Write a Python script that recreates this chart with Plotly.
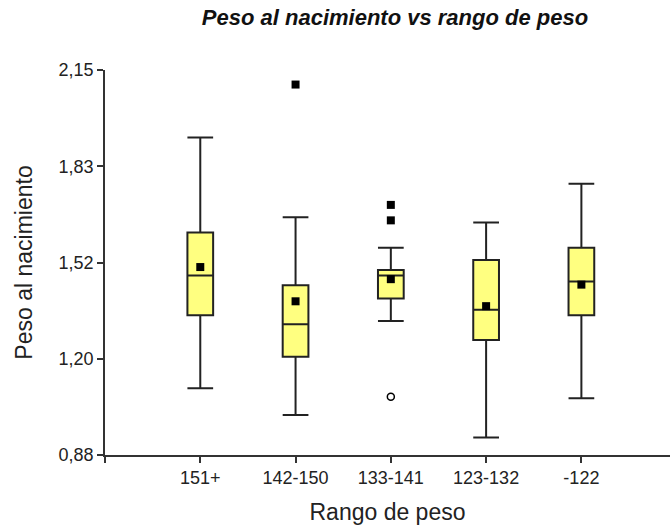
import plotly.graph_objects as go

categories = ["151+", "142-150", "133-141", "123-132", "-122"]
positions = [0, 1, 2, 3, 4]
lower_whisker = [1.100, 1.012, 1.322, 0.938, 1.067]
q1 = [1.341, 1.204, 1.396, 1.259, 1.341]
median = [1.472, 1.311, 1.472, 1.359, 1.452]
q3 = [1.614, 1.440, 1.490, 1.523, 1.564]
upper_whisker = [1.927, 1.664, 1.564, 1.647, 1.775]
means = [1.500, 1.387, 1.460, 1.371, 1.442]

# far outliers (filled squares) and near outliers (open circles)
far_out_x = [1, 2, 2]
far_out_y = [2.102, 1.705, 1.654]
near_out_x = [2]
near_out_y = [1.072]

ytick_vals = [0.88, 1.1975, 1.515, 1.8325, 2.15]
ytick_text = ["0,88", "1,20", "1,52", "1,83", "2,15"]

FONT = "Liberation Sans, Arial, sans-serif"

fig = go.Figure()
fig.add_trace(go.Box(
    x=positions, q1=q1, median=median, q3=q3,
    lowerfence=lower_whisker, upperfence=upper_whisker,
    width=0.27, whiskerwidth=1, boxpoints=False,
    fillcolor="#FFFF80", line=dict(color="#222222", width=2),
    showlegend=False, hoverinfo="skip",
))
fig.add_trace(go.Scatter(
    x=positions, y=means, mode="markers",
    marker=dict(symbol="square", size=8, color="black"),
    showlegend=False,
))
fig.add_trace(go.Scatter(
    x=far_out_x, y=far_out_y, mode="markers",
    marker=dict(symbol="square", size=8, color="black"),
    showlegend=False,
))
fig.add_trace(go.Scatter(
    x=near_out_x, y=near_out_y, mode="markers",
    marker=dict(symbol="circle-open", size=7, color="black", line=dict(width=1.5)),
    showlegend=False,
))

axis_font = dict(family=FONT, size=18, color="#222222")
title_font = dict(family=FONT, size=23, color="#222222")

fig.update_layout(
    width=670, height=529,
    margin=dict(l=105, r=0, t=70, b=74),
    paper_bgcolor="white", plot_bgcolor="white",
    title=dict(
        text="<b><i>Peso al nacimiento vs rango de peso</i></b>",
        xref="container", x=395 / 670, xanchor="center",
        yref="container", y=1 - 17 / 529, yanchor="middle",
        font=dict(family=FONT, size=22, color="#111111"),
    ),
    xaxis=dict(
        range=[-1, 4.93], showgrid=False, zeroline=False,
        showline=True, linecolor="#333333", linewidth=1.5,
        ticks="outside", ticklen=6, tickwidth=1.5, tickcolor="#333333",
        tickvals=[-1] + positions, ticktext=[""] + categories,
        tickfont=axis_font,
        title=dict(text="Rango de peso", standoff=17, font=title_font),
    ),
    yaxis=dict(
        range=[0.88, 2.15], showgrid=False, zeroline=False,
        showline=True, linecolor="#333333", linewidth=1.5,
        ticks="outside", ticklen=6, tickwidth=1.5, tickcolor="#333333",
        tickvals=ytick_vals, ticktext=ytick_text,
        tickfont=axis_font,
        title=dict(text="Peso al nacimiento", standoff=20, font=title_font),
    ),
)

fig.write_html("out.html", config={"displayModeBar": False},
               post_script="document.body.style.margin='0';")
